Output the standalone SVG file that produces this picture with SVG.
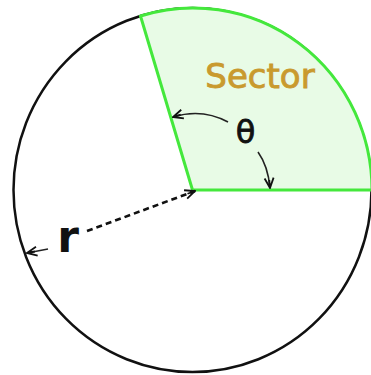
<svg xmlns="http://www.w3.org/2000/svg" width="371" height="375" viewBox="0 0 371 375">
<defs>
<marker id="ah" viewBox="0 0 12 12" refX="11" refY="6" markerWidth="12" markerHeight="12" markerUnits="userSpaceOnUse" orient="auto">
<path d="M1,1.5 L11,6 L1,10.5 M3,6 L11,6" fill="none" stroke="#111" stroke-width="1.8" stroke-linejoin="miter"/>
</marker>
<style>
.circ{fill:#fff;stroke:#111;stroke-width:2.5}
.sector{fill:#e8fbe6;stroke:#44e83c;stroke-width:3;stroke-linejoin:round}
.arr{fill:none;stroke:#222;stroke-width:1.6;marker-end:url(#ah)}
.dash{fill:none;stroke:#111;stroke-width:2.6;stroke-dasharray:6 4;marker-end:url(#ah)}
.lbl{font-family:"DejaVu Sans",sans-serif}
</style>
</defs>
<rect width="371" height="375" fill="#fff"/>
<g id="circle">
<ellipse class="circ" cx="192.5" cy="190" rx="179" ry="182"/>
</g>
<g id="sector">
<path class="sector" d="M192.5,190 L372,190 A179,182 0 0,0 140.5,16 Z"/>
<text class="lbl" x="260" y="88" text-anchor="middle" font-size="34" fill="#c99a2e" stroke="#c99a2e" stroke-width="0.9">Sector</text>
</g>
<g id="theta">
<text class="lbl" x="245.5" y="143" text-anchor="middle" font-size="32" fill="#111" stroke="#111" stroke-width="0.8">θ</text>
</g>
<g id="radius">
<text class="lbl" x="68" y="252" text-anchor="middle" font-size="44" font-weight="bold" fill="#111">r</text>
</g>
<g id="connectors">
<path class="arr" d="M228,122 Q202,108 173,117"/>
<path class="arr" d="M258,152 Q268,166 270,188"/>
<path class="dash" d="M87,231 L195,191"/>
<path class="arr" d="M48,249 L27,253"/>
</g>
</svg>
